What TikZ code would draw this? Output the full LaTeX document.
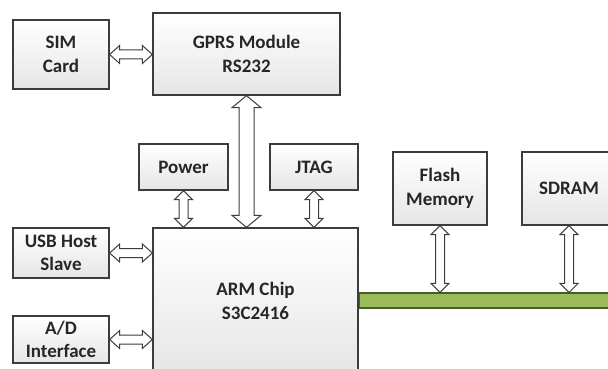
\documentclass[tikz,border=0pt]{standalone}
\usepackage{fontspec}
\setmainfont{Carlito}
\usepackage{tikz}
\usetikzlibrary{calc}
\usetikzlibrary{positioning}

\definecolor{boxline}{HTML}{3C3C3C}
\definecolor{busgreen}{HTML}{9BBB59}
\definecolor{busline}{HTML}{4A5C26}

\tikzset{
  block/.style={draw=boxline, line width=1.3pt, top color=white, bottom color=gray!20,
                align=center, inner sep=0pt, font=\fontsize{19}{23.5}\selectfont\bfseries, text=black!85},
  link/.style={draw=boxline, fill=white, line width=1pt, line join=miter},
  bus/.style={draw=busline, fill=busgreen, line width=1.1pt, inner sep=0pt, minimum height=15pt}
}

% vertical double arrow : top, bottom, half shaft, half head, head length
\newcommand{\varrow}[5]{%
\draw[link] (#1) -- ++(#4,#5) -- ++({#3-#4},0) -- ($(#2)+(#3,-#5)$) -- ++({#4-#3},0) -- (#2)
  -- ++(-#4,-#5) -- ++({#4-#3},0) -- ($(#1)+(-#3,#5)$) -- ++({#3-#4},0) -- cycle ;}
% horizontal double arrow : left, right, half shaft, half head, head length
\newcommand{\harrow}[5]{%
\draw[link] (#1) -- ++(#5,-#4) -- ++(0,{#4-#3}) -- ($(#2)+(-#5,-#3)$) -- ++(0,{#3-#4}) -- (#2)
  -- ++(-#5,#4) -- ++(0,{#3-#4}) -- ($(#1)+(#5,#3)$) -- ++(0,{#4-#3}) -- cycle ;}

\begin{document}
\begin{tikzpicture}[x=1pt, y=-1pt]

\clip (0,0) rectangle (608,369);
\fill[white] (0,0) rectangle (608,369);

% blocks
\node[block, minimum width=96pt,  minimum height=69pt] (sim)   at ( 61.0, 54.5) {SIM\\Card};
\node[block, minimum width=187pt, minimum height=82pt] (gprs)  at (246.5, 54.0) {GPRS Module\\RS232};
\node[block, minimum width=89pt,  minimum height=46pt] (pwr)   at (183.5,167.0) {Power};
\node[block, minimum width=88pt,  minimum height=46pt] (jtag)  at (314.0,167.0) {JTAG};
\node[block, minimum width=205pt, minimum height=146pt] (arm)  at (255.5,301.0) {ARM Chip\\S3C2416};
\node[block, minimum width=96pt,  minimum height=50pt] (usb)   at ( 61.0,253.0) {USB Host\\Slave};
\node[block, minimum width=96pt,  minimum height=47pt] (adc)   at ( 61.0,339.5) {A/D\\Interface};
\node[block, minimum width=94pt,  minimum height=73pt] (flash) at (440.0,188.5) {Flash\\Memory};
\node[block, minimum width=94pt,  minimum height=73pt] (sdram) at (569.0,188.5) {SDRAM};

% system bus
\node[bus, anchor=west, minimum width=260pt] (sysbus) at (arm.east |- 0,300.5) {};

% links
\harrow{sim.east}{sim.east -| gprs.west}{4.5}{9}{10}
\varrow{gprs.south}{gprs.south |- arm.north}{7.5}{14.5}{12}
\varrow{pwr.south}{pwr.south |- arm.north}{4.5}{9}{9}
\varrow{jtag.south}{jtag.south |- arm.north}{4.5}{9}{9}
\harrow{usb.east}{usb.east -| arm.west}{4.5}{9}{10}
\harrow{adc.east}{adc.east -| arm.west}{4.5}{9}{10}
\varrow{flash.south}{flash.south |- sysbus.north}{4.5}{9}{9}
\varrow{sdram.south}{sdram.south |- sysbus.north}{4.5}{9}{9}

\end{tikzpicture}
\end{document}
